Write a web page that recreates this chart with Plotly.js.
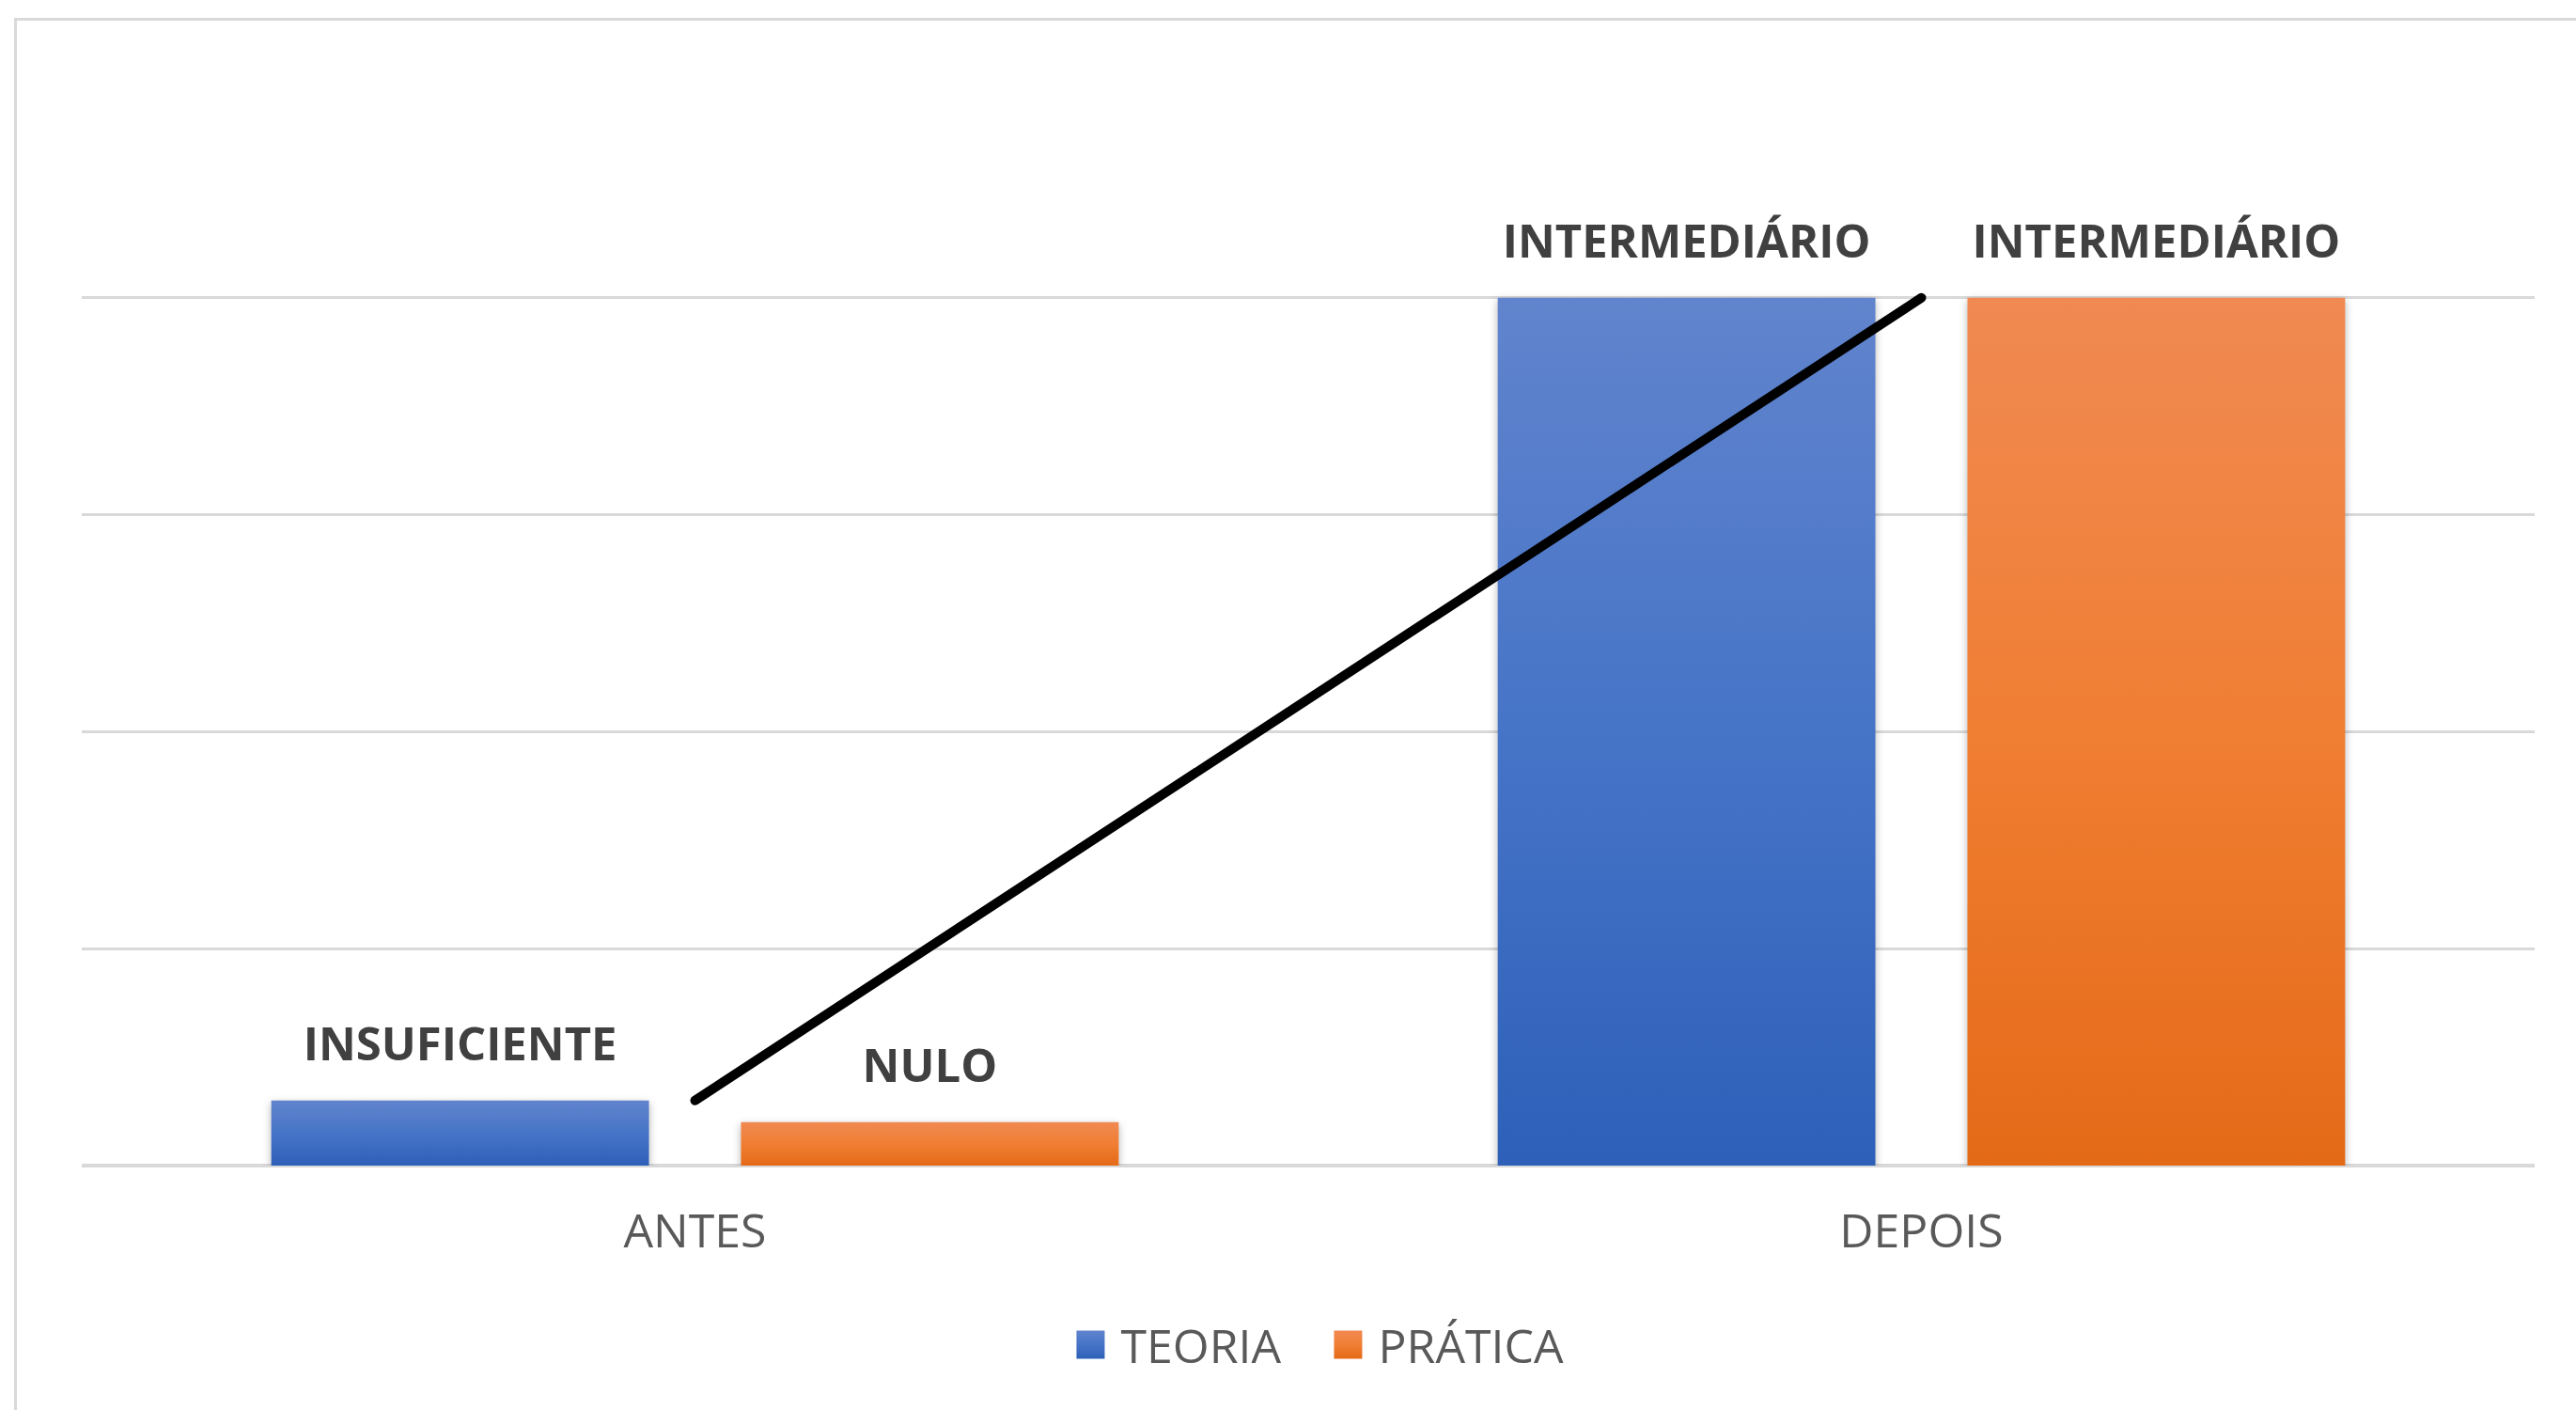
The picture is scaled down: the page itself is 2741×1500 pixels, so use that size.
<!DOCTYPE html>
<html>
<head>
<meta charset="utf-8">
<script src="https://cdn.plot.ly/plotly-3.0.1.min.js"></script>
<style>
  html, body { margin: 0; padding: 0; background: #ffffff; overflow: hidden; }
  #frame { position: absolute; left: 15px; top: 19px; width: 3000px; height: 2000px;
           border-left: 3px solid #d9d9d9; border-top: 3px solid #d9d9d9; box-sizing: border-box; }
  #chart { position: absolute; left: 0; top: 0; width: 2741px; height: 1500px; }
  .barlayer .point path { filter: drop-shadow(0px 3px 4px rgba(0,0,0,0.30)); }
  path[style*="rgb(68, 114, 196)"] { fill: url(#gradTeoria) !important; }
  path[style*="rgb(237, 125, 49)"] { fill: url(#gradPratica) !important; }
  .legendpoints path { d: path("M15,15H-15V-15H15Z"); }
  .scatterlayer .js-line { stroke-linecap: round; }
</style>
</head>
<body>
<svg width="0" height="0" style="position:absolute">
  <defs>
    <linearGradient id="gradTeoria" x1="0" y1="0" x2="0" y2="1">
      <stop offset="0" stop-color="#6184cd"/>
      <stop offset="0.5" stop-color="#4674c7"/>
      <stop offset="1" stop-color="#2e60b9"/>
    </linearGradient>
    <linearGradient id="gradPratica" x1="0" y1="0" x2="0" y2="1">
      <stop offset="0" stop-color="#f08a52"/>
      <stop offset="0.5" stop-color="#f07e33"/>
      <stop offset="1" stop-color="#e46a17"/>
    </linearGradient>
  </defs>
</svg>
<div id="frame"></div>
<div id="chart"></div>
<script>
// ---- data ----
const categorias = ["ANTES", "DEPOIS"];
const teoriaValores = [0.3, 4];
const praticaValores = [0.2, 4];
const teoriaRotulos = ["INSUFICIENTE", "INTERMEDIÁRIO"];
const praticaRotulos = ["NULO", "INTERMEDIÁRIO"];
const linhaValores = [0.3, 4];
const serieNomes = ["TEORIA", "PRÁTICA"];

const labelTemplate = "<span style='font-size:49px'>%{text}</span><br>\u00a0";
const labelFont = { family: "Open Sans", size: 25, color: "#404040", weight: "bold" };

const traces = [
  {
    type: "bar", name: serieNomes[0], x: categorias, y: teoriaValores,
    text: teoriaRotulos, texttemplate: labelTemplate, textposition: "outside",
    constraintext: "none", cliponaxis: false, textfont: labelFont,
    marker: { color: "#4472c4", line: { width: 0 } }, hoverinfo: "skip"
  },
  {
    type: "bar", name: serieNomes[1], x: categorias, y: praticaValores,
    text: praticaRotulos, texttemplate: labelTemplate, textposition: "outside",
    constraintext: "none", cliponaxis: false, textfont: labelFont,
    marker: { color: "#ed7d31", line: { width: 0 } }, hoverinfo: "skip"
  },
  {
    type: "scatter", mode: "lines", x: categorias, y: linhaValores,
    line: { color: "#000000", width: 10 }, showlegend: false, hoverinfo: "skip",
    cliponaxis: false
  }
];

const layout = {
  width: 2741, height: 1500,
  margin: { l: 87, r: 44, t: 86, b: 260, pad: 0 },
  paper_bgcolor: "rgba(0,0,0,0)",
  plot_bgcolor: "rgba(0,0,0,0)",
  barmode: "group",
  bargap: 0.234,
  bargroupgap: 0.196,
  font: { family: "Open Sans", color: "#595959" },
  xaxis: {
    type: "category",
    showgrid: false, showline: false, zeroline: false,
    ticks: "", ticklabelstandoff: 36,
    tickfont: { family: "Open Sans", size: 50, color: "#595959" }
  },
  yaxis: {
    range: [0, 5], dtick: 1, tick0: 0,
    showticklabels: false, ticks: "",
    showgrid: true, gridcolor: "#d9d9d9", gridwidth: 3,
    zeroline: true, zerolinecolor: "#d9d9d9", zerolinewidth: 4,
    showline: false, fixedrange: true
  },
  showlegend: true,
  legend: {
    orientation: "h", x: 0.504, xanchor: "center", y: -0.165, yanchor: "middle",
    font: { family: "Open Sans", size: 50, color: "#595959" },
    itemwidth: 54, entrywidth: 205,
    itemclick: false, itemdoubleclick: false, traceorder: "normal"
  }
};

Plotly.newPlot("chart", traces, layout, { displayModeBar: false, staticPlot: true });
</script>
</body>
</html>
